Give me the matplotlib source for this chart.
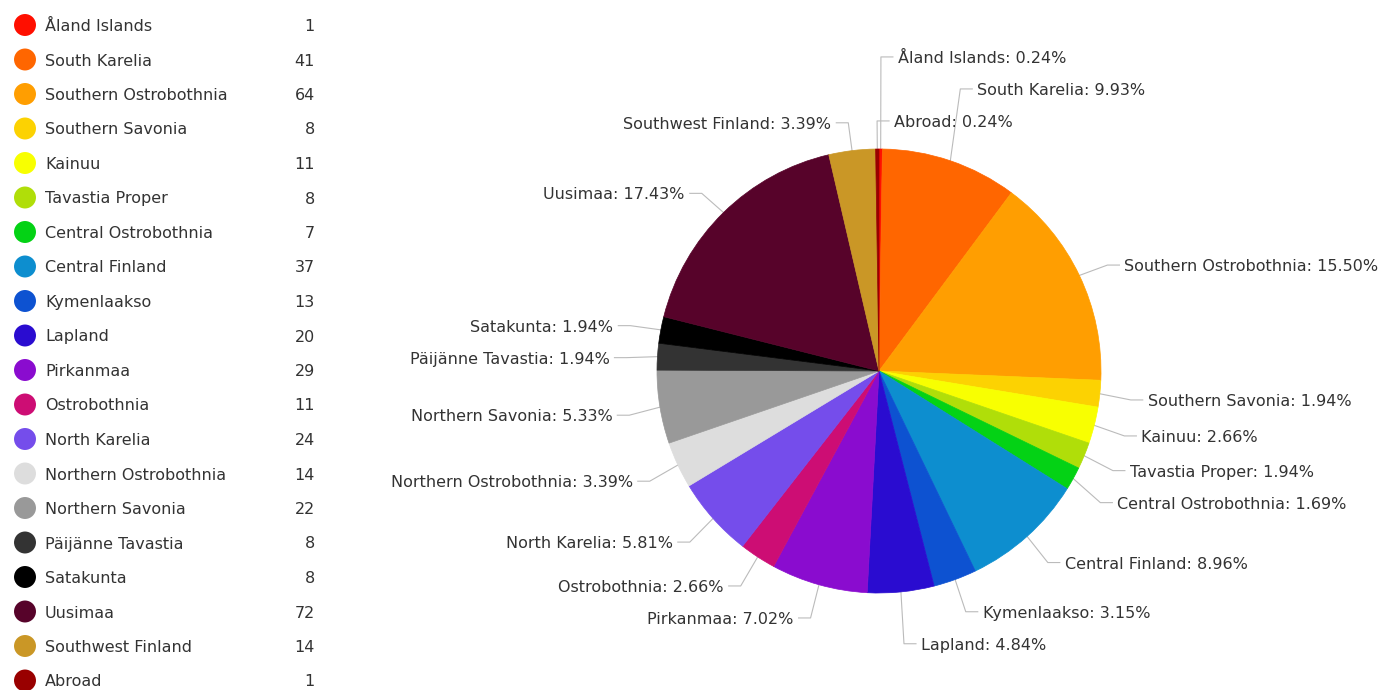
import numpy as np
import matplotlib.pyplot as plt

regions = ["Åland Islands", "South Karelia", "Southern Ostrobothnia", "Southern Savonia",
           "Kainuu", "Tavastia Proper", "Central Ostrobothnia", "Central Finland",
           "Kymenlaakso", "Lapland", "Pirkanmaa", "Ostrobothnia", "North Karelia",
           "Northern Ostrobothnia", "Northern Savonia", "Päijänne Tavastia", "Satakunta",
           "Uusimaa", "Southwest Finland", "Abroad"]
counts = [1, 41, 64, 8, 11, 8, 7, 37, 13, 20, 29, 11, 24, 14, 22, 8, 8, 72, 14, 1]
colors = ["#FF0F00", "#FF6600", "#FF9E01", "#FCD202", "#F8FF01", "#B0DE09", "#04D215",
          "#0D8ECF", "#0D52D1", "#2A0CD0", "#8A0CCF", "#CD0D74", "#754DEB", "#DDDDDD",
          "#999999", "#333333", "#000000", "#57032A", "#CA9726", "#990000"]

W, H = 1390, 690
TXT = "#333333"
FS = 11.5

fig = plt.figure(figsize=(W / 100, H / 100), dpi=100)
ax = fig.add_axes([0, 0, 1, 1])

# legend on the left: dot, name, count
for i, (name, n, c) in enumerate(zip(regions, counts, colors)):
    y = H - (25 + i * 34.5)
    ax.scatter([25], [y], s=250, color=c, edgecolors="none")
    ax.text(45, y, name, ha="left", va="center_baseline", fontsize=FS, color=TXT)
    ax.text(315, y, str(n), ha="right", va="center_baseline", fontsize=FS, color=TXT)

# pie, clockwise from 12 o'clock
cx, cy, R = 879, H - 371, 222
wedges, _ = ax.pie(counts, colors=colors, startangle=90, counterclock=False,
                   center=(cx, cy), radius=R, frame=True)
for w in wedges:
    w.set_edgecolor(w.get_facecolor())
    w.set_linewidth(0.5)
ax.set_xlim(0, W)
ax.set_ylim(0, H)
ax.set_aspect("equal")
ax.axis("off")

total = sum(counts)
labels = []
for i, w in enumerate(wedges):
    th = np.deg2rad((w.theta1 + w.theta2) / 2)
    a = (90 - np.rad2deg(th)) % 360  # clockwise angle from the top
    ex, ey = cx + R * np.cos(th), cy + R * np.sin(th)
    kx, ky = cx + 1.14 * R * np.cos(th), cy + 1.14 * R * np.sin(th) - 3
    right = np.cos(th) > -0.02
    labels.append(dict(i=i, a=a, ex=ex, ey=ey, kx=kx, ky=ky, right=right,
                       upper=np.sin(th) > 0))

# spread labels so they don't overlap, moving away from the horizontal axis
gap = 32
for right in (True, False):
    for upper in (True, False):
        grp = [l for l in labels if l["right"] == right and l["upper"] == upper]
        desc = (right and upper) or (not right and not upper)
        grp.sort(key=lambda l: l["a"], reverse=desc)
        placed = []
        for l in grp:
            y = l["ky"]
            moved = True
            while moved:
                moved = False
                for p in placed:
                    if abs(p - y) < gap:
                        y = p + gap if upper else p - gap
                        moved = True
            l["ky"] = y
            placed.append(y)

for l in labels:
    i = l["i"]
    s = 1 if l["right"] else -1
    hx = l["kx"] + s * 12
    ax.plot([l["ex"], l["kx"], hx], [l["ey"], l["ky"], l["ky"]],
            color="#bbbbbb", lw=0.8, zorder=0)
    pct = counts[i] / total * 100
    ax.text(l["kx"] + s * 17, l["ky"], f"{regions[i]}: {pct:.2f}%",
            ha="left" if l["right"] else "right", va="center_baseline",
            fontsize=FS, color=TXT)

fig.savefig("out.png", dpi=100)
